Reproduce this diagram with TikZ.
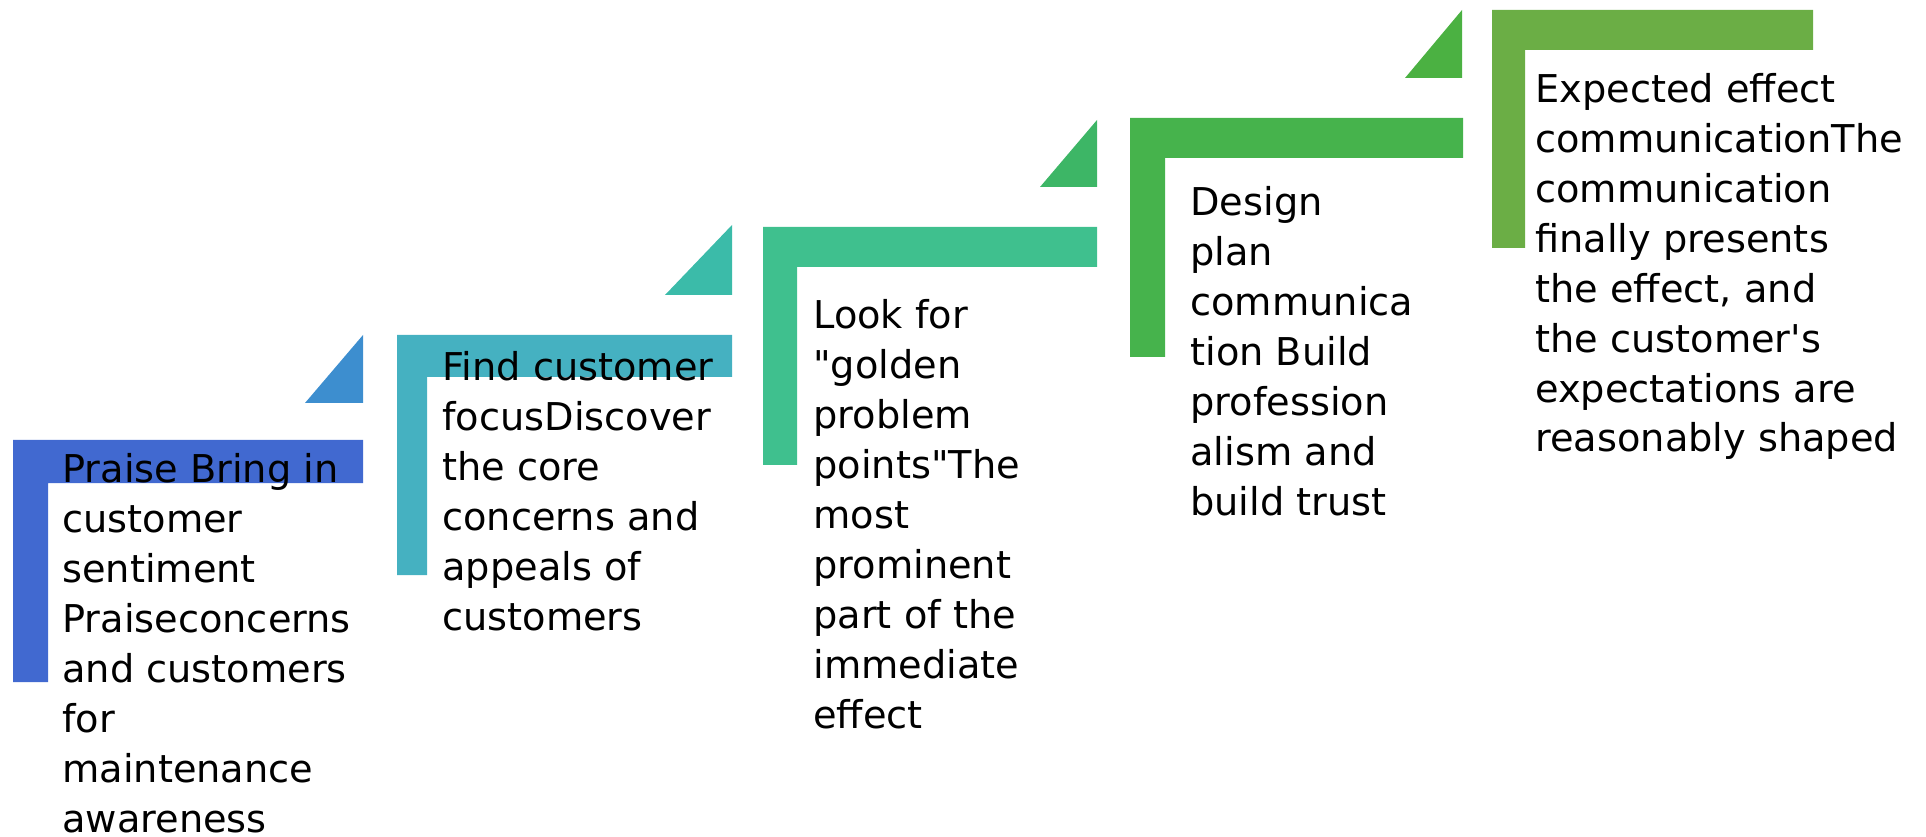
\documentclass[tikz,border=0pt]{standalone}
\usepackage{fontspec}
\setmainfont{DejaVu Sans}

\definecolor{barone}{HTML}{4169D0}
\definecolor{triaone}{HTML}{3D8ECF}
\definecolor{bartwo}{HTML}{45B1C1}
\definecolor{triatwo}{HTML}{3BBBA9}
\definecolor{barthree}{HTML}{3FC08E}
\definecolor{triathree}{HTML}{3DB666}
\definecolor{barfour}{HTML}{46B34C}
\definecolor{triafour}{HTML}{4BB142}
\definecolor{barfive}{HTML}{6BAE45}

\begin{document}
\begin{tikzpicture}[x=0.02cm,y=-0.02cm,
    steptext/.style={anchor=base west,align=left,inner sep=0pt,
        font=\fontsize{21.8pt}{28.45pt}\selectfont}]
        \useasboundingbox (0,0) rectangle (1926,837);

        % Step 1: L-shaped bar and small triangle
        \fill[barone] (13,440) -- (363,440) -- (363,483) -- (48,483) -- (48,682) -- (13,682) -- cycle;
        \fill[triaone] (305,403) -- (363,403) -- (363,335) -- cycle;

        % Step 2
        \fill[bartwo] (397,335) -- (732,335) -- (732,377) -- (427,377) -- (427,575) -- (397,575) -- cycle;
        \fill[triatwo] (665,295) -- (732,295) -- (732,225) -- cycle;

        % Step 3
        \fill[barthree] (763,227) -- (1097,227) -- (1097,267) -- (797,267) -- (797,465) -- (763,465) -- cycle;
        \fill[triathree] (1040,187) -- (1097,187) -- (1097,120) -- cycle;

        % Step 4
        \fill[barfour] (1130,118) -- (1463,118) -- (1463,158) -- (1165,158) -- (1165,357) -- (1130,357) -- cycle;
        \fill[triafour] (1405,78) -- (1462,78) -- (1462,10) -- cycle;

        % Step 5 (top, no triangle)
        \fill[barfive] (1492,10) -- (1813,10) -- (1813,50) -- (1525,50) -- (1525,248) -- (1492,248) -- cycle;

        % Texts of the steps (placed at the baseline of their last line)
        \node[steptext] (praise) at (62,832) {Praise Bring in\\customer\\sentiment\\Praiseconcerns\\and customers\\for\\maintenance\\awareness};
        \node[steptext] (focus) at (442,630) {Find customer\\focusDiscover\\the core\\concerns and\\appeals of\\customers};
        \node[steptext] (golden) at (813,728) {Look for\\\textquotedbl golden\\problem\\points\textquotedbl The\\most\\prominent\\part of the\\immediate\\effect};
        \node[steptext] (design) at (1190,515) {Design\\plan\\communica\\tion Build\\profession\\alism and\\build trust};
        \node[steptext] (expect) at (1535,452) {Expected effect\\communicationThe\\communication\\finally presents\\the effect, and\\the customer\textquotesingle s\\expectations are\\reasonably shaped};
    \end{tikzpicture}
\end{document}
